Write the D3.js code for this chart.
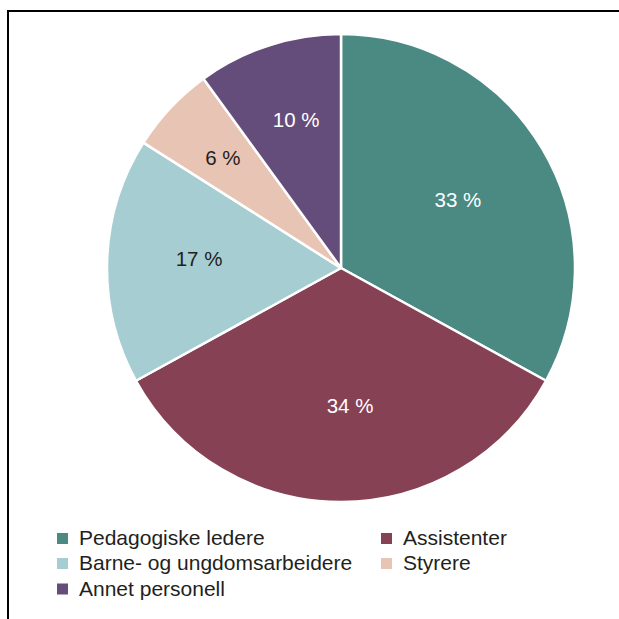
<!DOCTYPE html>
<html>
<head>
<meta charset="utf-8">
<script src="https://cdn.jsdelivr.net/npm/d3@7"></script>
<style>
  html, body { margin: 0; padding: 0; background: #fff; }
  svg { display: block; }
</style>
</head>
<body>
<svg id="chart" width="619" height="619"></svg>
<script>
const categories = ["Pedagogiske ledere", "Assistenter", "Barne- og ungdomsarbeidere", "Styrere", "Annet personell"];
const values = [33, 34, 17, 6, 10];
const labels = ["33 %", "34 %", "17 %", "6 %", "10 %"];

const colors = ["#4a8a83", "#874155", "#a6ced2", "#e8c4b5", "#654d7b"];
const labelColors = ["#ffffff", "#ffffff", "#231f20", "#231f20", "#ffffff"];
const labelRadius = [137, 138, 142, 162, 155];
const labelShift = [[-1, 1], [9, -1], [0, -5], [0, 0], [3, -1]];

const svg = d3.select("#chart");
const font = "'Liberation Sans', Arial, sans-serif";

// frame (top and left edges visible)
svg.append("line").attr("x1", 7).attr("x2", 619).attr("y1", 11).attr("y2", 11)
  .attr("stroke", "#000").attr("stroke-width", 2);
svg.append("line").attr("x1", 8).attr("x2", 8).attr("y1", 10).attr("y2", 619)
  .attr("stroke", "#000").attr("stroke-width", 2);

const cx = 341, cy = 268, R = 234;
const g = svg.append("g").attr("transform", `translate(${cx},${cy})`);

const pie = d3.pie().sort(null).value(d => d.v);
const data = categories.map((c, i) => ({ c, v: values[i], i }));
const arcs = pie(data);
const arc = d3.arc().innerRadius(0).outerRadius(R);

g.selectAll("path.slice").data(arcs).enter().append("path")
  .attr("class", "slice")
  .attr("d", arc)
  .attr("fill", d => colors[d.data.i])
  .attr("stroke", "#fff")
  .attr("stroke-width", 2.5)
  .attr("stroke-linejoin", "round");

g.selectAll("text.lbl").data(arcs).enter().append("text")
  .attr("class", "lbl")
  .attr("transform", d => {
    const r = labelRadius[d.data.i];
    const la = d3.arc().innerRadius(r).outerRadius(r);
    const [x, y] = la.centroid(d);
    const [sx, sy] = labelShift[d.data.i];
    return `translate(${x + sx},${y + sy})`;
  })
  .attr("text-anchor", "middle")
  .attr("dominant-baseline", "central")
  .attr("font-family", font)
  .attr("font-size", 20.5)
  .attr("fill", d => labelColors[d.data.i])
  .text(d => labels[d.data.i]);

// legend
const legend = svg.append("g");
const colX = [57, 381];
const rowY = [538.5, 563.5, 589];
const positions = [[0,0],[1,0],[0,1],[1,1],[0,2]];
categories.forEach((c, i) => {
  const [col, row] = positions[i];
  const x = colX[col], y = rowY[row];
  legend.append("rect").attr("x", x).attr("y", y - 5.5).attr("width", 11).attr("height", 11)
    .attr("fill", colors[i]);
  legend.append("text").attr("x", x + 22).attr("y", y - 1)
    .attr("dominant-baseline", "central")
    .attr("font-family", font).attr("font-size", 21)
    .attr("fill", "#231f20").text(c);
});
</script>
</body>
</html>
